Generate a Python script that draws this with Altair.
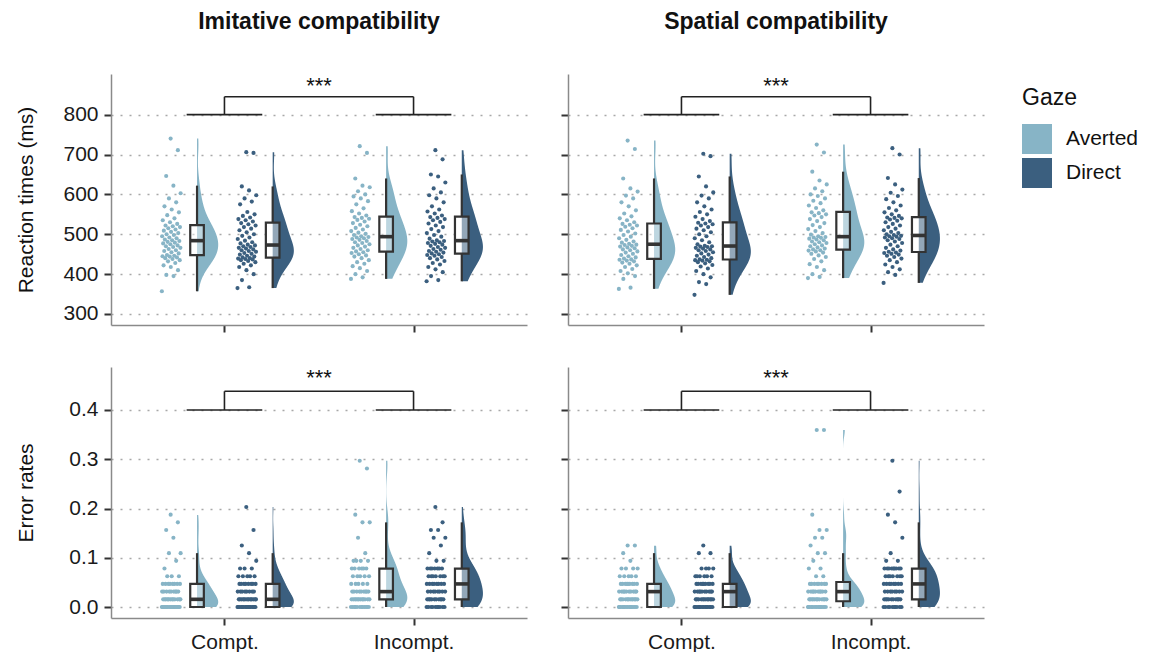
import altair as alt
import numpy as np
import pandas as pd

# ---------------- data ----------------
TASKS = ["Imitative compatibility", "Spatial compatibility"]
CONDITIONS = ["Compt.", "Incompt."]
GAZE = ["Averted", "Direct"]
GAZE_COLORS = ["#87b4c6", "#3b5f7f"]
RT_TICKS = [300, 400, 500, 600, 700, 800]
ERR_TICKS = [0.0, 0.1, 0.2, 0.3, 0.4]
RT_DOMAIN = [272.4, 902]
ERR_DOMAIN = [-0.0223, 0.4873]
TRIALS = 64  # error rates are counts of error trials out of 64

# reaction times (ms), one value per participant
RT_IMIT_COMPT_AVERTED = [357, 395, 398, 410, 418, 422, 428, 432, 435, 438, 440, 442, 444, 445, 446,
                         448, 452, 455, 458, 460, 463, 466, 468, 470, 472, 475, 477, 479, 481, 483,
                         485, 487, 490, 492, 495, 498, 500, 503, 506, 509, 512, 515, 518, 520, 522,
                         526, 530, 535, 540, 548, 555, 562, 570, 580, 590, 603, 622, 646, 711, 740]
RT_IMIT_COMPT_DIRECT = [365, 367, 385, 400, 410, 418, 422, 426, 430, 433, 435, 437, 438, 439, 440,
                        442, 444, 446, 449, 451, 453, 456, 458, 460, 462, 464, 466, 468, 470, 472,
                        474, 477, 480, 484, 488, 492, 496, 500, 505, 510, 514, 518, 522, 525, 528,
                        532, 535, 538, 542, 546, 550, 556, 575, 582, 590, 598, 610, 620, 704, 706]
RT_IMIT_INCOMPT_AVERTED = [388, 392, 400, 408, 415, 420, 426, 430, 435, 440, 444, 447, 450, 453, 455,
                           457, 460, 463, 466, 469, 472, 475, 478, 480, 483, 486, 488, 490, 492, 493,
                           495, 498, 501, 504, 508, 512, 516, 520, 524, 528, 532, 536, 539, 541, 543,
                           547, 552, 558, 565, 575, 583, 590, 595, 600, 608, 618, 622, 640, 704, 721]
RT_IMIT_INCOMPT_DIRECT = [382, 385, 395, 405, 412, 418, 424, 428, 433, 437, 440, 443, 446, 448, 450,
                          452, 454, 456, 458, 461, 463, 466, 468, 471, 474, 476, 478, 480, 482, 483,
                          485, 489, 494, 498, 503, 508, 513, 518, 522, 527, 531, 535, 538, 541, 543,
                          547, 552, 557, 562, 570, 580, 590, 598, 605, 615, 630, 645, 650, 688, 711]
RT_SPAT_COMPT_AVERTED = [363, 366, 388, 395, 402, 408, 413, 418, 422, 426, 429, 432, 434, 436, 437,
                         439, 442, 445, 448, 451, 454, 457, 460, 462, 465, 467, 469, 471, 473, 474,
                         476, 479, 482, 486, 490, 494, 498, 502, 507, 511, 515, 519, 522, 524, 526,
                         530, 535, 540, 545, 552, 560, 570, 580, 590, 597, 607, 615, 640, 714, 735]
RT_SPAT_COMPT_DIRECT = [348, 375, 380, 392, 400, 408, 414, 419, 423, 427, 430, 432, 434, 435, 436,
                        437, 440, 443, 446, 449, 452, 455, 458, 460, 462, 464, 466, 468, 469, 470,
                        471, 475, 480, 485, 490, 495, 500, 505, 510, 514, 518, 522, 525, 527, 529,
                        533, 538, 544, 550, 556, 562, 570, 580, 590, 597, 605, 620, 645, 696, 702]
RT_SPAT_INCOMPT_AVERTED = [390, 393, 400, 410, 418, 425, 432, 438, 443, 447, 451, 454, 457, 459, 460,
                           462, 464, 467, 470, 472, 475, 478, 480, 482, 485, 487, 489, 491, 492, 493,
                           495, 499, 503, 508, 513, 518, 523, 528, 533, 538, 543, 547, 550, 553, 555,
                           560, 566, 572, 578, 584, 590, 596, 600, 608, 615, 625, 635, 657, 705, 725]
RT_SPAT_INCOMPT_DIRECT = [378, 398, 405, 412, 418, 424, 430, 435, 439, 443, 446, 449, 451, 453, 454,
                          456, 459, 462, 466, 470, 474, 478, 482, 485, 488, 490, 492, 494, 495, 496,
                          498, 500, 503, 506, 510, 514, 518, 522, 526, 530, 534, 537, 540, 541, 542,
                          546, 550, 555, 560, 566, 572, 580, 588, 596, 604, 612, 625, 641, 700, 716]

# error trials (out of 64): error-count levels and number of participants at each level
ERR_IMIT_COMPT_AVERTED_K = [0, 1, 2, 3, 4, 5, 6, 7, 9, 10, 11, 12]
ERR_IMIT_COMPT_AVERTED_N = [20, 12, 9, 8, 3, 1, 1, 2, 1, 1, 1, 1]
ERR_IMIT_COMPT_DIRECT_K = [0, 1, 2, 3, 4, 5, 6, 7, 8, 10, 13]
ERR_IMIT_COMPT_DIRECT_N = [18, 13, 8, 8, 5, 3, 1, 1, 1, 1, 1]
ERR_IMIT_INCOMPT_AVERTED_K = [0, 1, 2, 3, 4, 5, 6, 7, 9, 11, 12, 18, 19]
ERR_IMIT_INCOMPT_AVERTED_N = [12, 12, 9, 5, 5, 6, 4, 1, 1, 2, 1, 1, 1]
ERR_IMIT_INCOMPT_DIRECT_K = [0, 1, 2, 3, 4, 5, 6, 7, 8, 9, 10, 11, 13]
ERR_IMIT_INCOMPT_DIRECT_N = [10, 10, 8, 8, 7, 7, 2, 1, 1, 2, 2, 1, 1]
ERR_SPAT_COMPT_AVERTED_K = [0, 1, 2, 3, 4, 5, 6, 7, 8]
ERR_SPAT_COMPT_AVERTED_N = [16, 12, 10, 9, 5, 4, 1, 1, 2]
ERR_SPAT_COMPT_DIRECT_K = [0, 1, 2, 3, 4, 5, 7, 8]
ERR_SPAT_COMPT_DIRECT_N = [16, 12, 10, 9, 6, 4, 2, 1]
ERR_SPAT_INCOMPT_AVERTED_K = [0, 1, 2, 3, 4, 5, 6, 7, 8, 9, 10, 12, 23]
ERR_SPAT_INCOMPT_AVERTED_N = [15, 12, 10, 8, 2, 2, 1, 2, 1, 2, 2, 1, 2]
ERR_SPAT_INCOMPT_DIRECT_K = [0, 1, 2, 3, 4, 5, 6, 7, 9, 11, 12, 15, 19]
ERR_SPAT_INCOMPT_DIRECT_N = [10, 10, 8, 8, 7, 9, 2, 1, 1, 1, 1, 1, 1]

# significance brackets (*** main effect of compatibility)
SIG_LABEL = "***"
SIG_BASE_Y = [800, 0.4]
SIG_TOP_Y = [845, 0.438]
SIG_TEXT_Y = [855, 0.45]

# ---------------- layout constants (dodge positions) ----------------
CAT_POS = {"Compt.": 1, "Incompt.": 2}
BOX_SHIFT = {"Averted": -0.145, "Direct": 0.255}
POINT_SHIFT = -0.136
JITTER = 0.1
BOX_HALF = 0.036
VIOLIN_W = 0.112
BRACKET_HALF = 0.2

rt_lists = {
    (TASKS[0], "Compt.", "Averted"): RT_IMIT_COMPT_AVERTED,
    (TASKS[0], "Compt.", "Direct"): RT_IMIT_COMPT_DIRECT,
    (TASKS[0], "Incompt.", "Averted"): RT_IMIT_INCOMPT_AVERTED,
    (TASKS[0], "Incompt.", "Direct"): RT_IMIT_INCOMPT_DIRECT,
    (TASKS[1], "Compt.", "Averted"): RT_SPAT_COMPT_AVERTED,
    (TASKS[1], "Compt.", "Direct"): RT_SPAT_COMPT_DIRECT,
    (TASKS[1], "Incompt.", "Averted"): RT_SPAT_INCOMPT_AVERTED,
    (TASKS[1], "Incompt.", "Direct"): RT_SPAT_INCOMPT_DIRECT,
}
err_lists = {
    (TASKS[0], "Compt.", "Averted"): (ERR_IMIT_COMPT_AVERTED_K, ERR_IMIT_COMPT_AVERTED_N),
    (TASKS[0], "Compt.", "Direct"): (ERR_IMIT_COMPT_DIRECT_K, ERR_IMIT_COMPT_DIRECT_N),
    (TASKS[0], "Incompt.", "Averted"): (ERR_IMIT_INCOMPT_AVERTED_K, ERR_IMIT_INCOMPT_AVERTED_N),
    (TASKS[0], "Incompt.", "Direct"): (ERR_IMIT_INCOMPT_DIRECT_K, ERR_IMIT_INCOMPT_DIRECT_N),
    (TASKS[1], "Compt.", "Averted"): (ERR_SPAT_COMPT_AVERTED_K, ERR_SPAT_COMPT_AVERTED_N),
    (TASKS[1], "Compt.", "Direct"): (ERR_SPAT_COMPT_DIRECT_K, ERR_SPAT_COMPT_DIRECT_N),
    (TASKS[1], "Incompt.", "Averted"): (ERR_SPAT_INCOMPT_AVERTED_K, ERR_SPAT_INCOMPT_AVERTED_N),
    (TASKS[1], "Incompt.", "Direct"): (ERR_SPAT_INCOMPT_DIRECT_K, ERR_SPAT_INCOMPT_DIRECT_N),
}

rows = []
for (task, cond, gaze), vals in rt_lists.items():
    for i, v in enumerate(vals):
        rows.append(dict(task=task, measure="rt", cond=cond, gaze=gaze, value=float(v), idx=i,
                         bpos=CAT_POS[cond] + BOX_SHIFT[gaze]))
for (task, cond, gaze), (ks, ns) in err_lists.items():
    vals = np.repeat(np.array(ks, dtype=float), ns) / TRIALS
    for i, v in enumerate(vals):
        rows.append(dict(task=task, measure="err", cond=cond, gaze=gaze, value=float(v), idx=i,
                         bpos=CAT_POS[cond] + BOX_SHIFT[gaze]))
df = pd.DataFrame(rows)

FONT = "Liberation Sans"
DARK = "#333333"

color_enc = alt.Color(
    "gaze:N",
    scale=alt.Scale(domain=GAZE, range=GAZE_COLORS),
    legend=alt.Legend(title="Gaze", symbolType="square", symbolSize=900, symbolStrokeWidth=0,
                      symbolOpacity=1, labelFontSize=21, titleFontSize=23, titleFontWeight="normal",
                      labelFont=FONT, titleFont=FONT, titleColor="#111", labelColor="#111",
                      rowPadding=4, labelOffset=14, titlePadding=14,
                      orient="none", legendX=911, legendY=13),
)


def panel(ti, mi):
    task = TASKS[ti]
    measure = ["rt", "err"][mi]
    d = df[(df.task == task) & (df.measure == measure)].reset_index(drop=True)
    lo, hi = float(d.value.min()), float(d.value.max())
    xs = alt.Scale(domain=[0.4, 2.6], nice=False, zero=False)
    ys = alt.Scale(domain=RT_DOMAIN if mi == 0 else ERR_DOMAIN, nice=False, zero=False)
    xaxis = alt.Axis(values=[1, 2], labelExpr="datum.value == 1 ? 'Compt.' : 'Incompt.'",
                     labels=(mi == 1), grid=False, title=None, tickSize=7, tickWidth=2,
                     tickColor=DARK, domainColor="#8a8a8a", domainWidth=1.5, labelFontSize=21,
                     labelColor="#1a1a1a", labelPadding=6, labelFont=FONT)
    yaxis_kw = dict(values=RT_TICKS if mi == 0 else ERR_TICKS, format="d" if mi == 0 else ".1f",
                    grid=True, gridDash=[2, 7], gridColor="#a8a8a8", gridWidth=1.3,
                    tickSize=7, tickWidth=2, tickColor=DARK, domainColor="#8a8a8a", domainWidth=1.5,
                    labelFontSize=21, labelColor="#1a1a1a", labelPadding=6, labelFont=FONT)
    if ti == 0:
        yaxis = alt.Axis(labels=True, title=["Reaction times (ms)", "Error rates"][mi],
                         titleFontSize=21, titleFontWeight="normal", titleFont=FONT,
                         titleColor="#111", titlePadding=17, minExtent=58, maxExtent=58, **yaxis_kw)
    else:
        yaxis = alt.Axis(labels=False, title=None, minExtent=0, maxExtent=0, **yaxis_kw)

    def X(field):
        return alt.X(field, type="quantitative", scale=xs, axis=xaxis)

    def Y(field):
        return alt.Y(field, type="quantitative", scale=ys, axis=yaxis)

    # half violins
    violin = alt.Chart(d).transform_joinaggregate(
        vmin="min(value)", vmax="max(value)", groupby=["gaze", "cond"]
    ).transform_density(
        "value", groupby=["gaze", "cond", "bpos", "vmin", "vmax"], extent=[lo, hi], steps=500,
        as_=["value", "density"]
    ).transform_filter(
        "datum.value >= datum.vmin - 1e-9 && datum.value <= datum.vmax + 1e-9"
    ).transform_joinaggregate(
        dmax="max(density)", groupby=["gaze", "cond"]
    ).transform_calculate(
        vx=f"datum.bpos + datum.density / datum.dmax * {VIOLIN_W}"
    ).mark_area(orient="horizontal", opacity=1).encode(
        y=Y("value"), x=X("vx"), x2="bpos:Q", color=color_enc, detail="cond:N"
    )

    # jittered raw points
    points = alt.Chart(d).transform_calculate(
        px=f"datum.bpos + {POINT_SHIFT} + (((datum.idx * 0.6180339887) % 1) - 0.5) * {JITTER}"
    ).mark_circle(size=17, opacity=1).encode(
        x=X("px"), y=Y("value"), color=color_enc
    )

    # box plot statistics (Tukey whiskers)
    stats = alt.Chart(d).transform_joinaggregate(
        jq1="q1(value)", jq3="q3(value)", groupby=["gaze", "cond"]
    ).transform_calculate(
        vin="(datum.value >= datum.jq1 - 1.5 * (datum.jq3 - datum.jq1) && "
            "datum.value <= datum.jq3 + 1.5 * (datum.jq3 - datum.jq1)) ? datum.value : null"
    ).transform_aggregate(
        q1="q1(value)", med="median(value)", q3="q3(value)", wlo="min(vin)", whi="max(vin)",
        groupby=["gaze", "cond", "bpos"]
    ).transform_calculate(
        bl=f"datum.bpos - {BOX_HALF}", br=f"datum.bpos + {BOX_HALF}"
    )
    wh_lo = stats.mark_rule(color=DARK, strokeWidth=2.2).encode(x=X("bpos"), y=Y("wlo"), y2="q1:Q")
    wh_hi = stats.mark_rule(color=DARK, strokeWidth=2.2).encode(x=X("bpos"), y=Y("q3"), y2="whi:Q")
    box = stats.mark_rect(fill="white", fillOpacity=0.45, stroke=DARK, strokeWidth=2.2).encode(
        x=X("bl"), x2="br:Q", y=Y("q1"), y2="q3:Q")
    med = stats.mark_rule(color=DARK, strokeWidth=3.6).encode(
        x=X("bl"), x2="br:Q", y=Y("med"), y2="med:Q")

    # significance bracket
    b, t = SIG_BASE_Y[mi], SIG_TOP_Y[mi]
    c1, c2 = CAT_POS["Compt."], CAT_POS["Incompt."]
    seg = pd.DataFrame({
        "x": [c1 - BRACKET_HALF, c1, c1, c2, c2 - BRACKET_HALF],
        "x2": [c1 + BRACKET_HALF, c1, c2, c2, c2 + BRACKET_HALF],
        "y": [b, b, t, b, b],
        "y2": [b, t, t, t, b],
    })
    bracket = alt.Chart(seg).mark_rule(color="#222", strokeWidth=1.6).encode(
        x=X("x"), x2="x2:Q", y=Y("y"), y2="y2:Q")
    lab = pd.DataFrame({"x": [(c1 + c2) / 2], "y": [SIG_TEXT_Y[mi]], "t": [SIG_LABEL]})
    star = alt.Chart(lab).mark_text(fontSize=22, baseline="alphabetic", align="center",
                                    color="#111", font=FONT).encode(x=X("x"), y=Y("y"), text="t:N")

    props = dict(width=416, height=251)
    if mi == 0:
        props["title"] = alt.Title(task, fontSize=23, fontWeight="bold", font=FONT, color="#111",
                                   anchor="middle", offset=40)
    return alt.layer(violin, points, wh_lo, wh_hi, box, med, bracket, star).properties(**props)


row1 = alt.hconcat(panel(0, 0), panel(1, 0), spacing=33).resolve_scale(
    x="independent", y="independent", color="shared")
row2 = alt.hconcat(panel(0, 1), panel(1, 1), spacing=33).resolve_scale(
    x="independent", y="independent", color="shared")
chart = alt.vconcat(row1, row2, spacing=34).resolve_scale(
    x="independent", y="independent", color="shared"
).properties(
    padding={"left": 15, "top": 11, "right": 0, "bottom": 0}
).configure(font=FONT).configure_view(stroke=None)

chart.save("out.html", embed_options={"renderer": "svg", "actions": False})
